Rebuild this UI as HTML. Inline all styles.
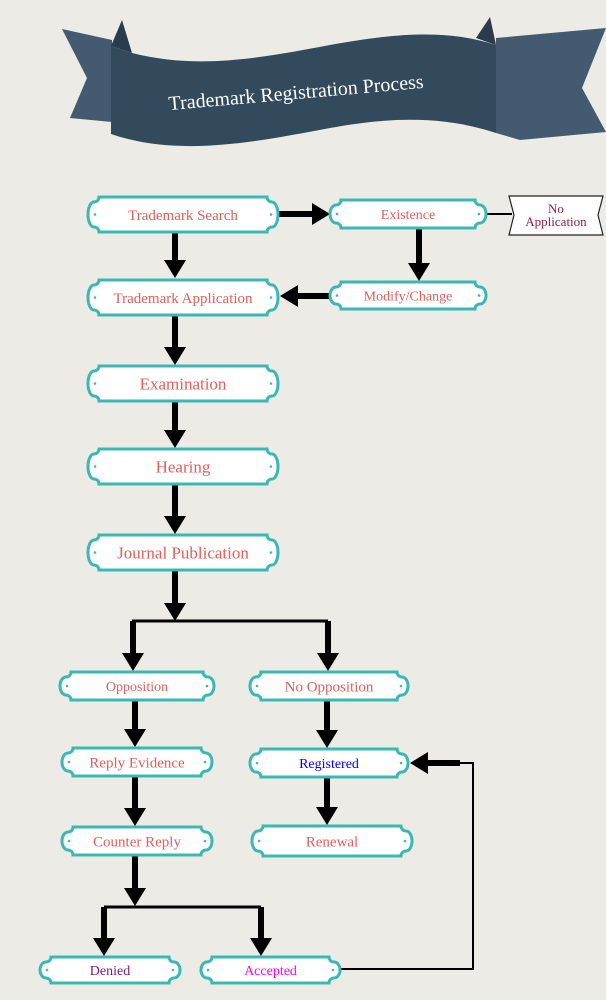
<!DOCTYPE html>
<html><head><meta charset="utf-8"><style>
html,body{margin:0;padding:0;background:#ecebe5;}
svg{display:block}
text{font-family:"Liberation Serif",serif;}
</style></head><body>
<svg id="s" width="606" height="1000" viewBox="0 0 606 1000" xmlns="http://www.w3.org/2000/svg">
<rect width="606" height="1000" fill="#ecebe5"/>
<path d="M62,29 L112,40 L112,122 L70,118 L87,78 Z" fill="#435a70"/>
<path d="M111,46 L122,20 L132,53 Z" fill="#2a3b4b"/>
<path d="M606,28 L496,38 L496,133 L520,140 L606,132 L582,88 Z" fill="#435a70"/>
<path d="M476,38 L490,17 L496,45 Z" fill="#2a3b4b"/>
<path d="M111,46 L132,53 C200,70 260,58 330,45 C400,32 450,30 496,45 L496,133 C450,118 400,115 330,128 C260,141 180,158 111,134 Z" fill="#334a5c"/>
<text x="296" y="99" fill="#fff" font-size="20" text-anchor="middle" transform="rotate(-5 296 92)">Trademark Registration Process</text>
<g id="conn" fill="#000" stroke="#000"></g>
<g id="nodes"></g>
</svg>
<script>
var NS="http://www.w3.org/2000/svg";
function el(t,a,p){var e=document.createElementNS(NS,t);for(var k in a)e.setAttribute(k,a[k]);(p||document.getElementById('s')).appendChild(e);return e;}
var C=document.getElementById('conn'),N=document.getElementById('nodes');
function node(x,y,w,h,label,col,fs){
 var e=6,r=5,L=x+e,Rr=x+w-e,b=(h-2*r)/2;
 var d="M"+(L+r)+","+y+" H"+(Rr-r)+" A"+r+","+r+" 0 0 0 "+Rr+","+(y+r)+
 " A"+e+","+b+" 0 0 1 "+Rr+","+(y+h-r)+" A"+r+","+r+" 0 0 0 "+(Rr-r)+","+(y+h)+
 " H"+(L+r)+" A"+r+","+r+" 0 0 0 "+L+","+(y+h-r)+" A"+e+","+b+" 0 0 1 "+L+","+(y+r)+" A"+r+","+r+" 0 0 0 "+(L+r)+","+y+" Z";
 el('path',{d:d,fill:'#fff',stroke:'#3bb8b4','stroke-width':3},N);
 el('circle',{cx:x+7,cy:y+h/2,r:1.3,fill:'#3bb8b4'},N);
 el('circle',{cx:x+w-7,cy:y+h/2,r:1.3,fill:'#3bb8b4'},N);
 var t=el('text',{x:x+w/2,y:y+h/2+fs*0.35,'text-anchor':'middle',fill:col,'font-size':fs},N);t.textContent=label;
}
function line(x1,y1,x2,y2,w){el('line',{x1:x1,y1:y1,x2:x2,y2:y2,'stroke-width':w||6,stroke:'#000'},C);}
function head(x,y,dir){var s=11,l=18,p;
 if(dir=='d')p=[x,y,x-s,y-l,x+s,y-l];else if(dir=='l')p=[x,y,x+l,y-s,x+l,y+s];else p=[x,y,x-l,y-s,x-l,y+s];
 el('polygon',{points:p.join(','),stroke:'none'},C);}
function down(x,y1,y2){line(x,y1,x,y2-16);head(x,y2,'d');}
var R="#e0605a";
down(175,232,278);
line(278,214,312,214);head(330,214,'r');
down(419,228,281);
line(330,296,298,296);head(280,296,'l');
line(486,214,512,214,2);
down(175,315,365);down(175,401,448);down(175,484,534);
down(175,570,621);
line(132,621,328,621,3);
down(133,621,671);down(328,621,671);
down(135,699,747);down(135,776,826);
down(327,700,748);down(327,777,825);
down(135,855,906);
line(104,907,261,907,3);
down(104,907,956);down(261,907,956);
line(340,969,474,969,2);line(473,969,473,763,2);line(474,763,460,763,2);
line(460,763,428,763,6);head(410,763,'l');
el('path',{d:"M509,196 H603 L598,215 L603,235 H509 L514,215 Z",fill:'#fff',stroke:'#222','stroke-width':1.2},N);
var t=el('text',{x:556,y:213,'text-anchor':'middle',fill:'#8b2050','font-size':13},N);t.textContent="No";
t=el('text',{x:556,y:226,'text-anchor':'middle',fill:'#8b2050','font-size':13},N);t.textContent="Application";
node(88,197,190,35,"Trademark Search",R,15);
node(330,200,156,28,"Existence",R,14);
node(88,280,190,35,"Trademark Application",R,15);
node(330,282,156,27,"Modify/Change",R,14);
node(88,366,190,35,"Examination",R,17);
node(88,449,190,35,"Hearing",R,17);
node(88,535,190,35,"Journal Publication",R,17);
node(60,672,154,28,"Opposition",R,14);
node(250,672,158,28,"No Opposition",R,15);
node(62,748,150,28,"Reply Evidence",R,15);
node(250,749,158,28,"Registered","#0000ff",14);
node(62,827,150,28,"Counter Reply",R,15);
node(252,826,160,30,"Renewal",R,15);
node(40,957,140,26,"Denied","#7a1a8a",14);
node(201,957,139,26,"Accepted","#ff00ff",14);
</script>
</body></html>
